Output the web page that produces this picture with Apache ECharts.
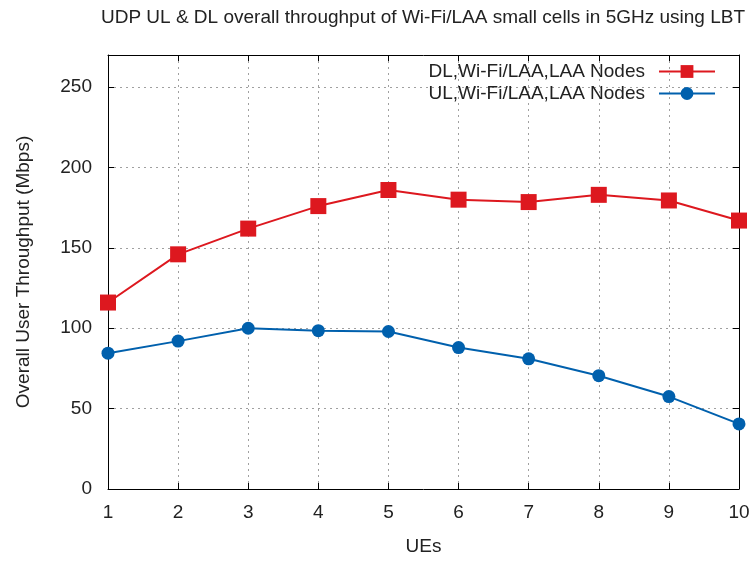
<!DOCTYPE html>
<html><head><meta charset="utf-8">
<script src="https://cdn.jsdelivr.net/npm/echarts@6/dist/echarts.min.js"></script>
<style>html,body{margin:0;padding:0;background:#fff}#c{width:754px;height:561px}</style>
</head><body><div id="c"></div>
<script>
const ues = [1,2,3,4,5,6,7,8,9,10];
const dlValues = [116, 146, 162, 176, 186, 180, 178.5, 183, 179.5, 167];
const ulValues = [84.5, 92, 100, 98.5, 98, 88, 81, 70.5, 57.5, 40.5];
const yTicks = [0, 50, 100, 150, 200, 250];
const dlName = 'DL,Wi-Fi/LAA,LAA Nodes';
const ulName = 'UL,Wi-Fi/LAA,LAA Nodes';

const FONT = 'Liberation Sans';
const FS = 19;
const chart = echarts.init(document.getElementById('c'));
const gridLine = {show:true, lineStyle:{color:'#a0a0a0', type:[2,4], width:1}};
const legendText = {fontFamily:FONT, fontSize:FS, color:'#222', padding:[0,9,0,0]};
chart.setOption({
  animation:false,
  title:{text:'UDP UL & DL overall throughput of Wi-Fi/LAA small cells in 5GHz using LBT',
    left:418, textAlign:'center', top:3,
    textStyle:{fontFamily:FONT, fontSize:FS, fontWeight:'normal', color:'#222'}},
  legend:[
    {data:[dlName], right:33, top:57, orient:'vertical', align:'right', itemWidth:56, itemHeight:16,
     textStyle:legendText},
    {data:[ulName], right:33, top:79, orient:'vertical', align:'right', itemWidth:56, itemHeight:16,
     textStyle:legendText}
  ],
  grid:{left:108, right:15, top:55, bottom:72},
  xAxis:[
    {type:'value', min:1, max:10, interval:1, name:'UEs', nameLocation:'middle', nameGap:48,
     nameTextStyle:{fontFamily:FONT, fontSize:FS, color:'#222'},
     axisLine:{show:true, lineStyle:{color:'#000', width:1}},
     axisTick:{show:true, inside:true, length:6, lineStyle:{color:'#000'}},
     axisLabel:{fontFamily:FONT, fontSize:FS, color:'#222', margin:14},
     splitLine:gridLine},
    {type:'value', position:'top', min:1, max:10, interval:1,
     axisLine:{show:true, onZero:false, lineStyle:{color:'#000', width:1}},
     axisTick:{show:true, inside:true, length:6, lineStyle:{color:'#000'}},
     axisLabel:{show:false}, splitLine:{show:false}}
  ],
  yAxis:[
    {type:'value', min:0, max:270, interval:50,
     name:'Overall User Throughput (Mbps)', nameLocation:'middle', nameGap:75,
     nameTextStyle:{fontFamily:FONT, fontSize:FS, color:'#222'},
     axisLine:{show:true, lineStyle:{color:'#000', width:1}},
     axisTick:{show:true, inside:true, length:6, lineStyle:{color:'#000'}},
     axisLabel:{fontFamily:FONT, fontSize:FS, color:'#222', margin:16,
       formatter:v => yTicks.includes(v) ? String(v) : ''},
     splitLine:gridLine},
    {type:'value', position:'right', min:0, max:270, interval:50,
     axisLine:{show:true, onZero:false, lineStyle:{color:'#000', width:1}},
     axisTick:{show:true, inside:true, length:6, lineStyle:{color:'#000'}},
     axisLabel:{show:false}, splitLine:{show:false}}
  ],
  series:[
    {name:dlName, type:'line', data:ues.map((u,i)=>[u, dlValues[i]]),
     symbol:'rect', symbolSize:16, lineStyle:{width:2, color:'#dd181f'},
     itemStyle:{color:'#dd181f'}},
    {name:ulName, type:'line', data:ues.map((u,i)=>[u, ulValues[i]]),
     symbol:'circle', symbolSize:13, lineStyle:{width:2, color:'#0060ad'},
     itemStyle:{color:'#0060ad'}}
  ]
});
</script></body></html>
